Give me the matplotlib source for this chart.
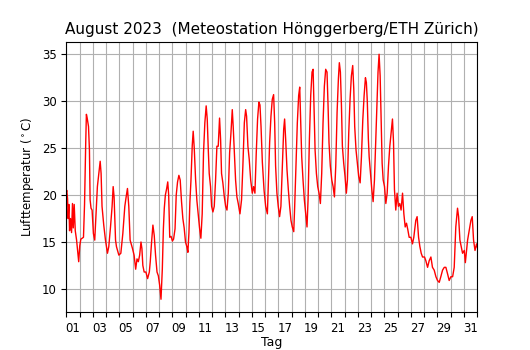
import matplotlib
matplotlib.use("Agg")
import matplotlib.pyplot as plt

# time in days since 1 Aug 2023 00:00
tage = [
    0.00, 0.04, 0.10, 0.14, 0.20, 0.25, 0.32, 0.40, 0.47, 0.53,
    0.60, 0.68, 0.78, 0.86, 0.94, 1.02, 1.10, 1.30, 1.38, 1.42,
    1.47, 1.52, 1.58, 1.68, 1.75, 1.80, 1.87, 1.95, 2.05, 2.15,
    2.25, 2.35, 2.46, 2.56, 2.63, 2.70, 2.83, 2.96, 3.11, 3.21,
    3.34, 3.46, 3.54, 3.61, 3.72, 3.79, 3.97, 4.12, 4.27, 4.42,
    4.52, 4.62, 4.72, 4.82, 4.90, 5.00, 5.12, 5.24, 5.34, 5.44,
    5.54, 5.64, 5.71, 5.78, 5.88, 6.01, 6.14, 6.27, 6.34, 6.44,
    6.54, 6.64, 6.74, 6.85, 6.95, 7.05, 7.15, 7.25, 7.33, 7.40,
    7.48, 7.58, 7.66, 7.73, 7.81, 7.91, 8.01, 8.10, 8.21, 8.30,
    8.40, 8.50, 8.60, 8.70, 8.80, 8.90, 9.00, 9.10, 9.18, 9.26,
    9.33, 9.41, 9.51, 9.58, 9.66, 9.76, 9.86, 9.96, 10.06, 10.16,
    10.26, 10.36, 10.46, 10.56, 10.64, 10.72, 10.79, 10.89, 10.97, 11.07,
    11.17, 11.27, 11.37, 11.47, 11.57, 11.65, 11.72, 11.82, 11.93, 12.03,
    12.13, 12.23, 12.33, 12.43, 12.53, 12.60, 12.68, 12.78, 12.88, 12.98,
    13.11, 13.23, 13.33, 13.44, 13.54, 13.61, 13.71, 13.81, 13.92, 14.04,
    14.14, 14.24, 14.34, 14.44, 14.54, 14.62, 14.70, 14.80, 14.93, 15.05,
    15.18, 15.25, 15.35, 15.45, 15.55, 15.65, 15.73, 15.80, 15.90, 16.00,
    16.10, 16.20, 16.31, 16.41, 16.48, 16.56, 16.66, 16.76, 16.86, 16.96,
    17.06, 17.17, 17.24, 17.34, 17.44, 17.54, 17.62, 17.69, 17.77, 17.87,
    17.97, 18.07, 18.17, 18.25, 18.35, 18.45, 18.55, 18.63, 18.70, 18.78,
    18.88, 18.98, 19.08, 19.18, 19.28, 19.38, 19.48, 19.58, 19.68, 19.76,
    19.83, 19.93, 20.04, 20.14, 20.24, 20.34, 20.44, 20.54, 20.61, 20.69,
    20.77, 20.84, 20.94, 21.04, 21.14, 21.22, 21.32, 21.42, 21.52, 21.62,
    21.70, 21.77, 21.87, 21.97, 22.07, 22.18, 22.28, 22.38, 22.48, 22.58,
    22.65, 22.72, 22.80, 22.86, 22.96, 23.06, 23.16, 23.26, 23.36, 23.46,
    23.53, 23.61, 23.69, 23.77, 23.84, 23.92, 24.02, 24.12, 24.22, 24.32,
    24.42, 24.52, 24.62, 24.70, 24.77, 24.87, 24.97, 25.07, 25.17, 25.27,
    25.38, 25.48, 25.58, 25.68, 25.78, 25.88, 26.01, 26.13, 26.23, 26.38,
    26.48, 26.59, 26.69, 26.79, 26.89, 27.04, 27.14, 27.27, 27.39, 27.52,
    27.64, 27.77, 27.90, 28.02, 28.15, 28.27, 28.40, 28.53, 28.65, 28.78,
    28.90, 29.03, 29.16, 29.28, 29.40, 29.53, 29.61, 29.71, 29.81, 29.91,
    30.04, 30.12, 30.29, 30.42, 30.54, 30.64, 30.74, 30.85, 30.97, 31.00,
]

# air temperature in deg C
temperatur = [
    20.3, 20.5, 19.6, 17.5, 19.0, 16.2, 17.5, 16.0, 19.1, 16.5,
    19.0, 16.2, 15.2, 14.0, 12.9, 14.6, 15.3, 15.5, 19.0, 22.0,
    25.6, 28.6, 28.2, 27.3, 24.8, 19.5, 18.6, 18.4, 15.9, 15.2,
    18.0, 20.9, 22.3, 23.6, 22.3, 18.8, 16.8, 15.2, 13.8, 14.5,
    16.6, 18.8, 20.9, 19.8, 15.2, 14.5, 13.6, 13.8, 15.9, 18.8,
    19.8, 20.7, 18.8, 15.2, 14.8, 14.3, 13.6, 12.1, 13.2, 12.9,
    13.6, 15.0, 14.3, 12.5, 11.8, 11.8, 11.1, 11.8, 12.9, 15.0,
    16.8, 15.7, 13.6, 11.8, 11.4, 10.4, 8.9, 12.1, 16.4, 18.6,
    20.0, 20.7, 21.4, 20.0, 15.5, 15.6, 15.1, 15.3, 16.4, 20.0,
    21.4, 22.1, 21.6, 19.3, 17.5, 16.5, 15.0, 14.5, 13.9, 16.0,
    19.2, 21.5, 25.3, 26.8, 25.0, 21.7, 19.4, 17.9, 16.5, 15.4,
    18.0, 24.5, 27.7, 29.5, 28.1, 24.8, 22.3, 20.9, 18.8, 18.2,
    18.8, 21.6, 25.2, 25.2, 28.2, 25.9, 22.3, 21.3, 19.8, 18.8,
    18.4, 20.2, 24.5, 26.6, 29.1, 27.3, 24.8, 21.6, 19.8, 19.1,
    18.0, 19.5, 23.1, 27.7, 29.1, 28.4, 25.2, 23.8, 21.6, 20.2,
    20.9, 20.2, 24.5, 28.1, 29.9, 29.6, 27.3, 23.5, 20.5, 18.8,
    18.0, 21.0, 25.6, 28.4, 30.2, 30.7, 27.7, 23.1, 20.2, 18.8,
    17.7, 18.8, 23.1, 27.0, 28.1, 25.9, 22.7, 20.6, 18.8, 17.3,
    16.6, 16.1, 18.8, 23.1, 27.7, 30.6, 31.5, 28.1, 24.1, 21.6,
    19.5, 18.0, 16.6, 19.5, 25.9, 30.6, 33.1, 33.4, 29.5, 24.8,
    22.3, 20.9, 20.2, 19.1, 22.3, 27.7, 31.6, 33.4, 33.1, 29.5,
    25.6, 23.1, 21.6, 20.9, 19.8, 23.1, 28.8, 32.4, 34.1, 33.1,
    29.5, 25.2, 23.4, 22.0, 20.2, 21.6, 26.6, 30.2, 32.7, 33.8,
    31.3, 27.3, 24.8, 23.4, 22.0, 21.3, 24.1, 28.0, 30.6, 32.5,
    32.0, 30.0, 26.0, 24.1, 22.3, 20.6, 19.3, 21.6, 25.9, 30.2,
    33.1, 35.0, 32.7, 28.0, 23.4, 21.6, 20.9, 19.1, 20.2, 23.1,
    25.2, 26.6, 28.1, 25.6, 20.6, 18.4, 20.2, 18.8, 19.1, 18.4,
    20.2, 18.0, 16.6, 17.0, 16.3, 15.5, 15.5, 14.8, 15.5, 17.3,
    17.7, 15.5, 14.5, 13.8, 13.4, 13.4, 13.0, 12.3, 13.0, 13.4,
    12.3, 12.0, 11.3, 10.9, 10.7, 11.3, 12.0, 12.3, 12.3, 11.6,
    10.9, 11.3, 11.3, 12.3, 16.6, 18.6, 17.7, 15.2, 14.5, 13.8,
    14.1, 12.8, 15.2, 16.3, 17.3, 17.7, 15.2, 14.1, 14.8, 14.5,
]

tag_labels = ["%02d" % d for d in range(1, 32, 2)]

fig = plt.figure(figsize=(5.3, 3.5), dpi=100)
ax = fig.add_subplot(111)
ax.plot(tage, temperatur, color="red", linewidth=1.0)

# grid/ticks at midnight, labels at noon of every odd day
ax.set_xticks(range(0, 32))
ax.set_xticklabels([])
ax.set_xticks([d - 0.5 for d in range(1, 32, 2)], minor=True)
ax.set_xticklabels(tag_labels, minor=True)
ax.tick_params(axis="x", which="minor", length=0, pad=7.5)
ax.tick_params(axis="both", which="both", labelsize=8.5)
ax.set_xlim(0, 31)

ax.set_title("August 2023  (Meteostation Hönggerberg/ETH Zürich)", fontsize=11)
ax.set_xlabel("Tag", fontsize=9, labelpad=0.5)
ax.set_ylabel(r"Lufttemperatur ($^\circ$C)", fontsize=8.5)
ax.grid(True, which="major")

fig.savefig("out.png", dpi=100)
